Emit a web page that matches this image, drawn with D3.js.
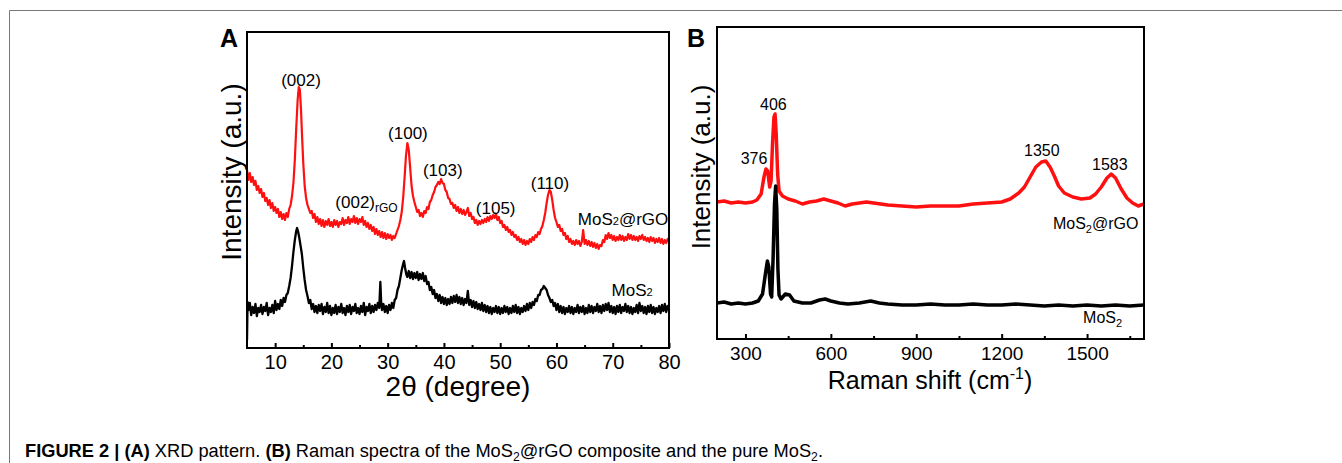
<!DOCTYPE html>
<html>
<head>
<meta charset="utf-8">
<script src="https://cdn.jsdelivr.net/npm/d3@7"></script>
<style>
	body { margin: 0; background: #fff; }
	text { font-family: "Liberation Sans", Arial, sans-serif; }
	.caption { font-family: "Liberation Sans Narrow", "Liberation Sans", Arial, sans-serif; }
</style>
</head>
<body>
<svg id="fig" width="1342" height="463"></svg>
<script>
// XRD pattern, [2theta, intensity a.u.]
var xrdMoS2rGO = [[5,178],[5.25,168],[5.5,175],[5.75,166],[6,171],[6.25,163],[6.5,167],[6.75,158],[7,162],[7.25,155],[7.5,159],[7.75,151],[8,155],[8.25,147],[8.5,150],[8.75,143],[9,148],[9.25,140],[9.5,145],[9.75,137],[10,141],[10.25,135],[10.5,139],[10.75,131],[11,136],[11.25,129],[11.5,134],[11.75,128],[12,135],[12.25,131],[12.5,139],[12.75,143],[13,152],[13.25,165],[13.5,188],[13.75,220],[14,248],[14.2,261],[14.4,258],[14.6,238],[14.8,210],[15,185],[15.25,162],[15.5,150],[15.75,143],[16,139],[16.25,135],[16.5,137],[16.75,130],[17,134],[17.25,126],[17.5,131],[17.75,124],[18,129],[18.25,122],[18.5,128],[18.75,121],[19,127],[19.25,123],[19.5,129],[19.75,122],[20,126],[20.25,121],[20.5,128],[20.75,123],[21,127],[21.25,121],[21.5,126],[21.75,124],[22,130],[22.25,123],[22.5,128],[22.75,125],[23,131],[23.25,124],[23.5,129],[23.75,126],[24,132],[24.25,125],[24.5,130],[24.75,124],[25,129],[25.25,126],[25.5,131],[25.75,123],[26,127],[26.25,121],[26.5,125],[26.75,119],[27,123],[27.25,117],[27.5,121],[27.75,114],[28,119],[28.25,113],[28.5,117],[28.75,111],[29,116],[29.25,110],[29.5,115],[29.75,109],[30,114],[30.25,110],[30.5,113],[30.75,108],[31,112],[31.25,110],[31.5,114],[31.75,118],[32,122],[32.25,128],[32.5,136],[32.75,150],[33,170],[33.25,192],[33.5,205],[33.75,198],[34,180],[34.25,162],[34.5,152],[34.75,146],[35,141],[35.25,136],[35.5,138],[35.75,132],[36,135],[36.25,131],[36.5,137],[36.75,135],[37,141],[37.25,139],[37.5,146],[37.75,148],[38,153],[38.25,156],[38.5,161],[38.75,163],[39,166],[39.25,164],[39.5,169],[39.75,165],[40,164],[40.25,158],[40.5,156],[40.75,150],[41,149],[41.25,144],[41.5,145],[41.75,140],[42,143],[42.25,137],[42.5,141],[42.75,135],[43,139],[43.25,134],[43.5,138],[43.75,133],[44,136],[44.25,140],[44.5,132],[44.75,135],[45,129],[45.25,131],[45.5,125],[45.75,128],[46,123],[46.25,127],[46.5,124],[46.75,128],[47,125],[47.25,129],[47.5,126],[47.75,131],[48,127],[48.25,132],[48.5,129],[48.75,133],[49,130],[49.25,134],[49.5,128],[49.75,131],[50,125],[50.25,127],[50.5,121],[50.75,123],[51,118],[51.25,121],[51.5,116],[51.75,118],[52,113],[52.25,116],[52.5,111],[52.75,113],[53,108],[53.25,111],[53.5,106],[53.75,109],[54,104],[54.25,108],[54.5,103],[54.75,107],[55,104],[55.25,109],[55.5,106],[55.75,111],[56,108],[56.25,113],[56.5,111],[56.75,116],[57,114],[57.25,119],[57.5,122],[57.75,128],[58,135],[58.25,145],[58.5,153],[58.75,158],[59,156],[59.25,148],[59.5,138],[59.75,130],[60,126],[60.25,121],[60.5,123],[60.75,117],[61,119],[61.25,113],[61.5,115],[61.75,109],[62,112],[62.25,106],[62.5,109],[62.75,104],[63,107],[63.25,103],[63.5,108],[63.75,104],[64,107],[64.25,102],[64.5,106],[64.75,118],[65,104],[65.25,108],[65.5,103],[65.75,107],[66,102],[66.25,106],[66.5,101],[66.75,105],[67,100],[67.25,104],[67.5,99],[67.75,103],[68,102],[68.25,108],[68.5,106],[68.75,113],[69,109],[69.25,115],[69.5,110],[69.75,113],[70,108],[70.25,112],[70.5,107],[70.75,111],[71,108],[71.25,113],[71.5,108],[71.75,112],[72,107],[72.25,111],[72.5,108],[72.75,114],[73,109],[73.25,113],[73.5,108],[73.75,112],[74,108],[74.25,111],[74.5,107],[74.75,112],[75,109],[75.25,113],[75.5,108],[75.75,111],[76,107],[76.25,110],[76.5,106],[76.75,111],[77,107],[77.25,110],[77.5,105],[77.75,109],[78,106],[78.25,110],[78.5,105],[78.75,109],[79,104],[79.25,108],[79.5,105],[79.75,109],[80,106]];

var xrdMoS2 = [[5,8],[5.1,46],[5.25,38],[5.5,45],[5.75,33],[6,41],[6.25,35],[6.5,44],[6.75,32],[7,40],[7.25,36],[7.5,43],[7.75,34],[8,41],[8.25,37],[8.5,45],[8.75,33],[9,40],[9.25,36],[9.5,43],[9.75,35],[10,47],[10.25,38],[10.5,44],[10.75,39],[11,48],[11.25,42],[11.5,50],[11.75,46],[12,53],[12.25,55],[12.5,62],[12.75,70],[13,82],[13.25,96],[13.5,108],[13.75,117],[13.9,120],[14.1,116],[14.3,110],[14.5,103],[14.75,94],[15,80],[15.25,68],[15.5,58],[15.75,52],[16,45],[16.25,48],[16.5,39],[16.75,44],[17,36],[17.25,42],[17.5,35],[17.75,43],[18,37],[18.25,44],[18.5,34],[18.75,41],[19,36],[19.25,45],[19.5,35],[19.75,42],[20,33],[20.25,40],[20.5,35],[20.75,43],[21,34],[21.25,41],[21.5,36],[21.75,44],[22,35],[22.25,40],[22.5,33],[22.75,42],[23,36],[23.25,43],[23.5,34],[23.75,41],[24,37],[24.25,44],[24.5,35],[24.75,40],[25,34],[25.25,42],[25.5,36],[25.75,45],[26,33],[26.25,41],[26.5,37],[26.75,44],[27,35],[27.25,42],[27.5,36],[27.75,43],[28,38],[28.25,45],[28.5,40],[28.7,66],[28.85,45],[29,38],[29.25,44],[29.5,36],[29.75,42],[30,35],[30.25,43],[30.5,38],[30.75,45],[31,40],[31.25,48],[31.5,50],[31.75,58],[32,62],[32.25,70],[32.5,78],[32.75,84],[32.9,87],[33.1,80],[33.3,74],[33.5,71],[33.75,77],[34,70],[34.25,76],[34.5,69],[34.75,75],[35,70],[35.25,76],[35.5,68],[35.75,74],[36,69],[36.25,75],[36.5,67],[36.75,72],[37,64],[37.25,66],[37.5,58],[37.75,61],[38,54],[38.25,58],[38.5,50],[38.75,54],[39,47],[39.25,53],[39.5,45],[39.75,51],[40,44],[40.25,50],[40.5,43],[40.75,49],[41,44],[41.25,51],[41.5,45],[41.75,52],[42,46],[42.25,53],[42.5,45],[42.75,51],[43,44],[43.25,50],[43.5,43],[43.75,49],[44,45],[44.25,57],[44.5,43],[44.75,48],[45,41],[45.25,47],[45.5,40],[45.75,46],[46,39],[46.25,44],[46.5,38],[46.75,45],[47,37],[47.25,43],[47.5,36],[47.75,42],[48,35],[48.25,41],[48.5,34],[48.75,40],[49,36],[49.25,42],[49.5,35],[49.75,41],[50,34],[50.25,40],[50.5,35],[50.75,42],[51,36],[51.25,41],[51.5,34],[51.75,40],[52,35],[52.25,42],[52.5,36],[52.75,43],[53,35],[53.25,41],[53.5,34],[53.75,40],[54,36],[54.25,42],[54.5,37],[54.75,44],[55,38],[55.25,45],[55.5,40],[55.75,46],[56,43],[56.25,49],[56.5,47],[56.75,53],[57,53],[57.25,58],[57.5,59],[57.75,62],[58,60],[58.25,58],[58.5,53],[58.75,50],[59,46],[59.25,48],[59.5,42],[59.75,45],[60,38],[60.25,44],[60.5,36],[60.75,42],[61,35],[61.25,41],[61.5,34],[61.75,40],[62,36],[62.25,42],[62.5,35],[62.75,41],[63,34],[63.25,40],[63.5,36],[63.75,43],[64,35],[64.25,41],[64.5,36],[64.75,42],[65,34],[65.25,40],[65.5,35],[65.75,43],[66,36],[66.25,42],[66.5,35],[66.75,41],[67,37],[67.25,44],[67.5,36],[67.75,42],[68,35],[68.25,43],[68.5,37],[68.75,44],[69,38],[69.25,45],[69.5,36],[69.75,42],[70,35],[70.25,41],[70.5,34],[70.75,42],[71,36],[71.25,43],[71.5,35],[71.75,41],[72,37],[72.25,44],[72.5,36],[72.75,42],[73,35],[73.25,41],[73.5,34],[73.75,40],[74,36],[74.25,43],[74.5,35],[74.75,45],[75,37],[75.25,42],[75.5,35],[75.75,41],[76,34],[76.25,42],[76.5,36],[76.75,43],[77,35],[77.25,41],[77.5,34],[77.75,40],[78,36],[78.25,42],[78.5,35],[78.75,43],[79,37],[79.25,44],[79.5,36],[79.75,42],[80,38]];

// Raman spectra, [shift cm-1, intensity a.u.]
var ramanMoS2rGO = [[200,137],[225,138],[250,136],[275,137],[300,136],[325,137],[340,139],[355,145],[365,162],[372,170],[378,168],[385,152],[390,158],[395,195],[400,222],[404,225],[408,205],[413,165],[418,148],[430,143],[450,140],[475,138],[500,135],[525,137],[550,138],[575,140],[600,138],[625,136],[650,133],[675,135],[700,136],[725,137],[750,136],[775,135],[800,134],[850,133],[900,132],[950,133],[1000,133],[1050,133],[1100,135],[1150,136],[1200,137],[1230,140],[1260,146],[1280,152],[1300,162],[1320,172],[1340,177],[1355,178],[1370,172],[1385,163],[1400,153],[1420,146],[1450,142],[1480,140],[1510,141],[1530,145],[1550,152],[1570,161],[1585,165],[1600,161],[1620,150],[1640,141],[1660,136],[1680,133],[1700,135]];

var ramanMoS2 = [[200,36],[225,37],[250,35],[275,36],[300,35],[325,36],[345,38],[360,45],[370,65],[377,78],[382,72],[388,45],[392,42],[397,80],[402,135],[406,153],[410,130],[414,70],[418,44],[425,40],[440,45],[455,44],[470,38],[500,36],[530,36],[560,39],[580,40],[600,38],[630,36],[660,35],[700,36],[740,38],[770,36],[800,35],[850,34],[900,34],[950,35],[1000,34],[1050,34],[1100,35],[1150,34],[1200,34],[1250,35],[1300,34],[1350,33],[1400,34],[1450,33],[1500,34],[1550,33],[1600,34],[1650,33],[1700,34]];

// ticks
var xrdTicks = [10, 20, 30, 40, 50, 60, 70, 80];
var xrdMinorTicks = [15, 25, 35, 45, 55, 65, 75];
var ramanTicks = [300, 600, 900, 1200, 1500];
var ramanMinorTicks = [450, 750, 1050, 1350, 1650];

// peak labels: text, sub, x (data), y (data), anchor
var xrdLabels = [
	["(002)", "", 14.6, 262, "middle"],
	["(100)", "", 33.6, 209, "middle"],
	["(103)", "", 39.8, 172, "middle"],
	["(110)", "", 58.85, 159, "middle"],
	["(105)", "", 49.2, 134, "middle"],
	["(002)", "rGO", 20.7, 140, "start"]
];
var ramanLabels = [
	["406", 398, 229],
	["376", 330, 175],
	["1350", 1341, 183],
	["1583", 1580, 169]
];

var svg = d3.select("#fig");

// frame round the figure
svg.append("line").attr("x1", 9.5).attr("y1", 10.5).attr("x2", 1342).attr("y2", 10.5)
	.attr("stroke", "#777").attr("stroke-width", 1);
svg.append("line").attr("x1", 9.5).attr("y1", 10.5).attr("x2", 9.5).attr("y2", 463)
	.attr("stroke", "#777").attr("stroke-width", 1);

function subText(sel, parts, subSize, shift) {
	// parts: [text, isSub]
	parts.forEach(function(p, i) {
		var t = sel.append("tspan").text(p[0]);
		if (p[1]) {
			t.attr("font-size", subSize).attr("dy", shift);
		} else if (i > 0 && parts[i - 1][1]) {
			t.attr("dy", -shift);
		}
	});
}

function drawPanel(o) {
	var x = d3.scaleLinear().domain(o.xDomain).range([o.left, o.right]);
	var y = d3.scaleLinear().domain(o.yDomain).range([o.bottom, o.top]);
	var g = svg.append("g");

	g.append("clipPath").attr("id", o.id + "clip")
		.append("rect").attr("x", o.left).attr("y", o.top)
		.attr("width", o.right - o.left).attr("height", o.bottom - o.top);

	var line = d3.line().x(function(d) { return x(d[0]); }).y(function(d) { return y(d[1]); });

	o.series.forEach(function(s) {
		g.append("path").datum(s.data)
			.attr("clip-path", "url(#" + o.id + "clip)")
			.attr("fill", "none").attr("stroke", s.color)
			.attr("stroke-width", s.width).attr("stroke-linejoin", "round")
			.attr("d", line);
	});

	// bottom axis, ticks pointing in
	var ax = g.append("g").attr("transform", "translate(0," + o.bottom + ")")
		.call(d3.axisBottom(x).tickValues(o.ticks).tickSizeInner(-5).tickSizeOuter(0).tickPadding(o.tickPad).tickFormat(d3.format("d")));
	ax.select(".domain").remove();
	ax.selectAll("line").attr("stroke-width", 2);
	ax.selectAll("text").attr("font-size", o.tickFont).attr("fill", "#000")
		.attr("font-family", "Liberation Sans, Arial, sans-serif");
	g.append("g").attr("transform", "translate(0," + o.bottom + ")")
		.call(d3.axisBottom(x).tickValues(o.minor).tickSizeInner(-3).tickSizeOuter(0).tickFormat(""))
		.call(function(a) { a.select(".domain").remove(); a.selectAll("line").attr("stroke-width", 2); });

	// box
	g.append("rect").attr("x", o.left).attr("y", o.top)
		.attr("width", o.right - o.left).attr("height", o.bottom - o.top)
		.attr("fill", "none").attr("stroke", "#000").attr("stroke-width", 2);

	// panel letter
	g.append("text").attr("x", o.letterX).attr("y", 47)
		.attr("font-size", 25).attr("font-weight", "bold").text(o.letter);

	// y title
	g.append("text")
		.attr("transform", "translate(" + o.yTitleX + "," + ((o.top + o.bottom) / 2 + o.yTitleDy) + ") rotate(-90)")
		.attr("text-anchor", "middle").attr("font-size", o.yTitleFont)
		.text("Intensity (a.u.)");

	return {x: x, y: y, g: g};
}

// panel A: XRD
var pa = drawPanel({
	id: "a", left: 247, right: 669, top: 32, bottom: 348,
	xDomain: [5, 80], yDomain: [0, 316],
	ticks: xrdTicks, minor: xrdMinorTicks, tickFont: 20, tickPad: 7,
	letter: "A", letterX: 220, yTitleX: 241, yTitleDy: -18, yTitleFont: 28,
	series: [
		{data: xrdMoS2rGO, color: "#ff1010", width: 2.2},
		{data: xrdMoS2, color: "#000", width: 2.3}
	]
});

pa.g.append("text").attr("x", 458).attr("y", 396).attr("text-anchor", "middle")
	.attr("font-size", 28).text("2θ (degree)");

xrdLabels.forEach(function(l) {
	var t = pa.g.append("text").attr("x", pa.x(l[2])).attr("y", pa.y(l[3]))
		.attr("text-anchor", l[4]).attr("font-size", 17);
	if (l[1]) subText(t, [[l[0], false], [l[1], true]], 12, 4);
	else t.text(l[0]);
});

var ta = pa.g.append("text").attr("x", pa.x(63.8)).attr("y", pa.y(123)).attr("font-size", 17);
subText(ta, [["MoS", false], ["2", true], ["@rGO", false]], 11, 0);
var tb = pa.g.append("text").attr("x", pa.x(69.8)).attr("y", pa.y(52)).attr("font-size", 17);
subText(tb, [["MoS", false], ["2", true]], 11, 0);

// panel B: Raman
var pb = drawPanel({
	id: "b", left: 717, right: 1144, top: 27, bottom: 339,
	xDomain: [200, 1700], yDomain: [0, 312],
	ticks: ramanTicks, minor: ramanMinorTicks, tickFont: 19, tickPad: 8,
	letter: "B", letterX: 687, yTitleX: 710, yTitleDy: -16, yTitleFont: 26,
	series: [
		{data: ramanMoS2rGO, color: "#ff1010", width: 3.5},
		{data: ramanMoS2, color: "#000", width: 3.5}
	]
});

var rt = pb.g.append("text").attr("x", 930).attr("y", 389).attr("text-anchor", "middle").attr("font-size", 25);
rt.append("tspan").text("Raman shift (cm");
rt.append("tspan").attr("font-size", 16).attr("dy", -10).text("-1");
rt.append("tspan").attr("dy", 10).text(")");

ramanLabels.forEach(function(l) {
	pb.g.append("text").attr("x", pb.x(l[1])).attr("y", pb.y(l[2]))
		.attr("text-anchor", "middle").attr("font-size", 16).text(l[0]);
});

var tc = pb.g.append("text").attr("x", pb.x(1380)).attr("y", pb.y(110)).attr("font-size", 16);
subText(tc, [["MoS", false], ["2", true], ["@rGO", false]], 11, 4);
var td = pb.g.append("text").attr("x", pb.x(1486)).attr("y", pb.y(16)).attr("font-size", 16);
subText(td, [["MoS", false], ["2", true]], 11, 4);

// caption
var cap = svg.append("text").attr("class", "caption").attr("x", 25).attr("y", 457).attr("font-size", 18)
	.attr("textLength", 798).attr("lengthAdjust", "spacingAndGlyphs");
cap.append("tspan").attr("font-weight", "bold").text("FIGURE 2 | (A)");
cap.append("tspan").text(" XRD pattern. ");
cap.append("tspan").attr("font-weight", "bold").text("(B)");
cap.append("tspan").text(" Raman spectra of the MoS");
cap.append("tspan").attr("font-size", 12).attr("dy", 4).text("2");
cap.append("tspan").attr("dy", -4).text("@rGO composite and the pure MoS");
cap.append("tspan").attr("font-size", 12).attr("dy", 4).text("2");
cap.append("tspan").attr("dy", -4).text(".");
</script>
</body>
</html>
